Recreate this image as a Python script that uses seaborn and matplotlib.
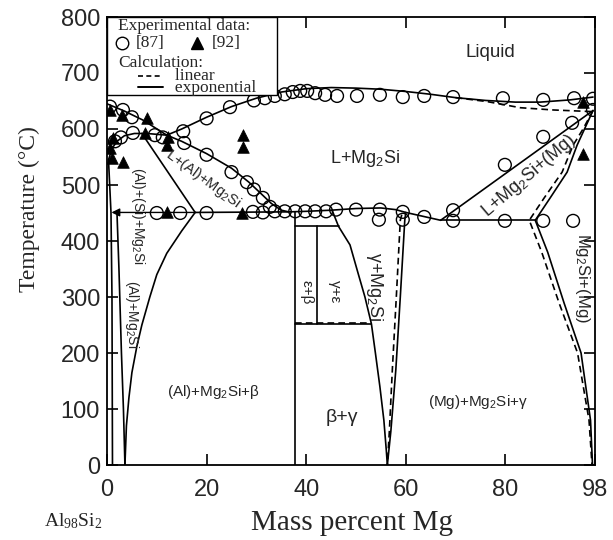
import matplotlib
matplotlib.use('Agg')
import matplotlib.pyplot as plt
import seaborn as sns
from matplotlib.patches import Rectangle

# ---------------- experimental data ----------------
ref87_x = [0.6, 3.2, 5.0, 5.2, 9.6, 11.2, 1.6, 2.8,
           15.3, 20.0, 24.7, 29.5, 31.7, 33.7, 35.7, 37.3, 38.8, 40.2, 41.8, 43.8,
           46.2, 50.2, 54.8, 59.4, 63.7, 69.5, 79.5, 87.6, 93.8, 97.6, 97.6,
           15.5, 20.0, 25.0, 28.1, 29.5, 31.3, 32.7,
           10.0, 14.7, 20.0, 29.3, 31.3, 33.7, 35.7, 37.8, 39.8, 41.8, 44.0, 46.0,
           50.0, 54.8, 59.4, 54.6, 59.4, 63.7, 69.5, 79.9, 87.6, 93.6,
           69.5, 79.9, 87.6, 93.4]
ref87_t = [640, 634, 621, 593, 589, 585, 578, 585,
           596, 619, 639, 651, 655, 659, 662, 666, 668, 668, 664, 661,
           659, 659, 661, 657, 659, 657, 655, 652, 655, 654, 634,
           575, 554, 523, 505, 492, 477, 461,
           450, 450, 450, 452, 451, 453, 453, 453, 453, 453, 453, 456,
           456, 456, 452, 438, 438, 443, 436, 436, 436, 436,
           455, 536, 586, 611]
ref92_x = [0.6, 3.0, 8.0, 7.6, 12.2, 12.0, 27.3, 27.3, 1.2, 0.6, 1.0, 3.2,
           12.0, 27.1, 95.6, 95.6]
ref92_t = [634, 625, 620, 593, 586, 571, 589, 568, 584, 566, 548, 541,
           452, 450, 648, 555]

# ---------------- calculated boundaries ----------------
liqAl_x = [0, 3.5, 7.2, 12]
liqAl_t = [645, 632, 616, 589]
tri_up_x = [12, 15, 20, 25, 28.5, 31, 33, 35, 36.5]
tri_up_t = [589, 578, 556, 530, 505, 484, 467, 455, 452]
liqMg2Si_x = [12, 15, 20, 25, 30, 35, 40, 45, 50, 55, 60, 65, 70, 76, 82, 87, 93, 97.6]
liqMg2Si_t = [589, 600, 621, 640, 655, 666, 672, 674, 673, 671, 667, 662, 656, 651, 648, 648, 652, 657]
liqMg2Si_lin_x = [70, 76.3, 83, 89.6, 97.6]
liqMg2Si_lin_t = [656, 649, 638, 634, 631]
ternMg_x = [97.6, 67]
ternMg_t = [633, 437]
mgside_x = [97.6, 96, 94.4, 92.4, 89, 86, 88.5, 91.8, 95.2, 97.1, 97.5]
mgside_t = [633, 602, 571, 523, 477, 437, 380, 289, 200, 80, 0]
mgside_lin_x = [97.6, 95.6, 93.6, 91.4, 87.8, 84.8, 87.3, 90.8, 94.5, 96.8, 97.4]
mgside_lin_t = [633, 600, 571, 523, 477, 437, 380, 289, 200, 80, 0]
eutMg_x = [67, 86]
eutMg_t = [437, 437]
lineB_x = [17.7, 36.5, 40, 45, 50, 55, 58, 60, 63, 67]
lineB_t = [451, 452, 453, 455, 458, 459, 456, 451, 445, 437]
liqAl2_x = [0.3, 1, 2, 3.5, 5.5, 8, 12]
liqAl2_t = [545, 565, 578, 588, 592, 592, 589]
lineQ_x = [7, 17.7]
lineQ_t = [592, 451]
alb_x = [17.7, 15, 12, 10, 8.6, 7, 6, 5, 4.4, 3.9, 3.6]
alb_t = [451, 418, 378, 340, 300, 250, 212, 165, 120, 70, 0]
alsi_x = [2.0, 2.4, 2.9, 3.3, 3.6]
alsi_t = [451, 350, 200, 100, 0]
alsolv_x = [0.3, 0.8, 1.0, 1.1]
alsolv_t = [545, 451, 300, 0]
box_v1_x = [37.8, 37.8]
box_v1_t = [0, 452]
box_h1_x = [37.8, 46.5]
box_h1_t = [426, 426]
box_v2_x = [42.2, 42.2]
box_v2_t = [252, 426]
box_h2_x = [37.8, 53.1]
box_h2_t = [252, 252]
gam_x = [45.2, 46.5, 48.8, 50.5, 51.8, 53.1, 53.9, 54.8, 55.6, 56.1, 56.3]
gam_t = [455, 426, 393, 340, 300, 252, 200, 140, 80, 25, 0]
gmg_x = [60.0, 59.8, 58.9, 58.0, 57.0, 56.3]
gmg_t = [451, 437, 300, 170, 60, 0]
gmg_lin_x = [59.2, 58.9, 58.1, 57.3, 56.7, 56.3]
gmg_lin_t = [447, 437, 300, 170, 60, 0]

x_ticks = [0, 20, 40, 60, 80, 98]
y_ticks = [0, 100, 200, 300, 400, 500, 600, 700, 800]

# ---------------- styling ----------------
sns.set_theme(style='ticks')
plt.rcParams['font.family'] = ['Liberation Sans', 'DejaVu Sans']
plt.rcParams['mathtext.fontset'] = 'custom'
plt.rcParams['mathtext.rm'] = 'Liberation Sans'
plt.rcParams['mathtext.it'] = 'Liberation Sans:italic'
plt.rcParams['mathtext.bf'] = 'Liberation Sans:bold'
plt.rcParams['mathtext.sf'] = 'Liberation Serif'

fig = plt.figure(figsize=(6.13, 5.40), dpi=100)
ax = fig.add_axes([107/613, 75/540, 488/613, 448/540])

LW = 1.2
def curve(x, t, dashed=False):
    sns.lineplot(x=x, y=t, sort=False, estimator=None, color='black',
                 linewidth=LW, linestyle=(0, (4, 2.5)) if dashed else '-', ax=ax)

solid = [(liqAl_x, liqAl_t), (tri_up_x, tri_up_t), (liqMg2Si_x, liqMg2Si_t),
         (ternMg_x, ternMg_t), (mgside_x, mgside_t), (eutMg_x, eutMg_t),
         (lineB_x, lineB_t), (liqAl2_x, liqAl2_t), (lineQ_x, lineQ_t),
         (alb_x, alb_t), (alsi_x, alsi_t), (alsolv_x, alsolv_t),
         (box_v1_x, box_v1_t), (box_h1_x, box_h1_t), (box_v2_x, box_v2_t),
         (box_h2_x, box_h2_t), (gam_x, gam_t), (gmg_x, gmg_t)]
for x, t in solid:
    curve(x, t)
for x, t in [(liqMg2Si_lin_x, liqMg2Si_lin_t), (mgside_lin_x, mgside_lin_t),
             (gmg_lin_x, gmg_lin_t), (box_h2_x, [v + 2 for v in box_h2_t])]:
    curve(x, t, dashed=True)

# arrow to the Al side
ax.annotate('', xy=(0.9, 451), xytext=(17.7, 451),
            arrowprops=dict(arrowstyle='-|>', color='black', lw=1.0,
                            mutation_scale=12, shrinkA=0, shrinkB=0))

sns.scatterplot(x=ref87_x, y=ref87_t, marker='o', s=85, facecolor='none',
                edgecolor='black', linewidth=1.0, ax=ax, zorder=5)
sns.scatterplot(x=ref92_x, y=ref92_t, marker='^', s=70, color='black',
                edgecolor='black', linewidth=0.5, ax=ax, zorder=6)

ax.set_xlim(0, 98)
ax.set_ylim(0, 800)
ax.set_xticks(x_ticks)
ax.set_yticks(y_ticks)
ax.tick_params(axis='both', direction='in', length=8, width=1.2,
               labelsize=17, top=True, right=True, color='black')
ax.tick_params(axis='x', pad=10)
ax.tick_params(axis='y', pad=5)
for s in ax.spines.values():
    s.set_linewidth(1.3)
    s.set_color('black')
ax.set_xlabel('')
ax.set_ylabel('')

# axis labels
fig.text(29/613, 1 - 209/540, 'Temperature (\u00b0C)', rotation=90,
         ha='center', va='center', fontsize=17, family='Liberation Serif')
fig.text(352/613, 1 - 523/540, 'Mass percent Mg', ha='center', va='center',
         fontsize=21, family='Liberation Serif')
fig.text(73/613, 1 - 521/540, r'$\mathsf{Al_{98}Si_{2}}$', ha='center',
         va='center', fontsize=14)

# legend box
ax.add_patch(Rectangle((0, 0.826), 0.348, 0.174, transform=ax.transAxes,
                       fill=True, facecolor='white', edgecolor='black',
                       lw=1.0, zorder=7))
serif = dict(family='Liberation Serif', fontsize=12.5, transform=ax.transAxes,
             va='center', ha='left', zorder=8)
ax.text(0.0225, 0.979, 'Experimental data:', **serif)
ax.plot([0.031], [0.941], 'o', mfc='none', mec='black', ms=9, mew=1.0,
        transform=ax.transAxes, zorder=8, clip_on=False)
ax.text(0.059, 0.941, '[87]', **serif)
ax.plot([0.184], [0.941], '^', color='black', ms=8.5,
        transform=ax.transAxes, zorder=8, clip_on=False)
ax.text(0.215, 0.941, '[92]', **serif)
ax.text(0.0225, (465 - 55) / 448,
        'Calculation:\n' + ' ' * 13 + 'linear\n' + ' ' * 13 + 'exponential',
        family='Liberation Serif', fontsize=12.5, transform=ax.transAxes,
        va='top', ha='left', linespacing=0.72, zorder=8)
ax.plot([0.0635, 0.115], [(465 - 76) / 448] * 2, color='black', lw=1.2,
        linestyle=(0, (3, 2)), transform=ax.transAxes, zorder=8)
ax.plot([0.0635, 0.115], [(465 - 87) / 448] * 2, color='black', lw=1.4,
        transform=ax.transAxes, zorder=8)

# region labels
def lab(x, t, s, size, rot=0):
    ax.text(x, t, s, fontsize=size, rotation=rot, ha='center', va='center',
            rotation_mode='anchor', zorder=9)

beta, gamma, eps = '\u03b2', '\u03b3', '\u03b5'
lab(76.9, 736, 'Liquid', 13.5)
lab(51.8, 548, r'L+Mg$_2$Si', 13)
lab(19.3, 512, r'L+(Al)+Mg$_2$Si', 10.5, -36)
lab(6.2, 445, r'(Al)+(Si)+Mg$_2$Si', 10, -90)
lab(5.0, 270, r'(Al)+Mg$_2$Si', 10, -90)
lab(21.3, 130, r'(Al)+Mg$_2$Si+' + beta, 11)
lab(47.2, 84, beta + '+' + gamma, 14)
lab(74.5, 112, r'(Mg)+Mg$_2$Si+' + gamma, 11)
lab(53.8, 318, gamma + r'+Mg$_2$Si', 13, -90)
lab(95.4, 334, r'Mg$_2$Si+(Mg)', 12, -90)
lab(84.7, 516, r'L+Mg$_2$Si+(Mg)', 13, 40.5)
lab(40.1, 309, eps + '+' + beta, 11, -90)
lab(45.8, 309, gamma + '+' + eps, 11, -90)

fig.savefig('out.png', dpi=100)
